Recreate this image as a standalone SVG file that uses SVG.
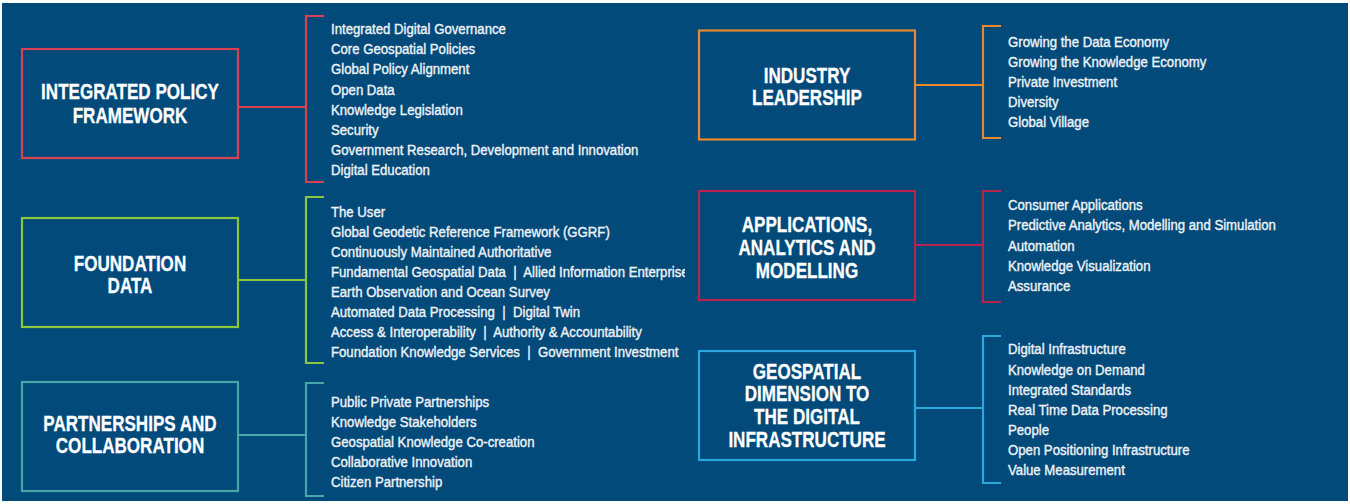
<svg xmlns="http://www.w3.org/2000/svg" width="1350" height="504" viewBox="0 0 1350 504">
<style>
.bg{fill:#024a7a}
.box{fill:none;stroke-width:2.2}
.ln{fill:none;stroke-width:2.2}
.hd{font-family:"Liberation Sans",Arial,sans-serif;font-weight:bold;font-size:22.3px;fill:#ffffff;stroke:#ffffff;stroke-width:0.3;text-anchor:middle}
.it{font-family:"Liberation Sans",Arial,sans-serif;font-size:15.5px;fill:#eef3f8;stroke:#eef3f8;stroke-width:0.4}
.red{stroke:#d9424f}.grn{stroke:#8cc63f}.teal{stroke:#4ba6a9}.org{stroke:#e8892c}.crm{stroke:#b8234d}.blu{stroke:#2aa7de}
</style>
<defs>
<clipPath id="clipL"><rect x="0" y="0" width="685" height="504"/></clipPath>
</defs>
<rect x="0" y="0" width="1350" height="504" fill="#ffffff"/>
<rect class="bg" x="2" y="3" width="1346" height="498"/>

<g id="connectors">
<path class="ln red" d="M238 107H306M324 16H306V182H324"/>
<path class="ln grn" d="M238 280H306M324 197H306V363H324"/>
<path class="ln teal" d="M238 435H306M324 383H306V496H324"/>
<path class="ln org" d="M915 85H983M1001 26H983V138H1001"/>
<path class="ln crm" d="M915 245H983M1001 191H983V302H1001"/>
<path class="ln blu" d="M915 408H983M1001 336H983V483H1001"/>
</g>

<g id="node-integrated-policy">
<rect class="box red" x="22" y="49" width="216" height="109"/>
<text class="hd" transform="translate(130,99.3) scale(0.765,1)" x="0" y="0">INTEGRATED POLICY</text>
<text class="hd" transform="translate(130,122.7) scale(0.765,1)" x="0" y="0">FRAMEWORK</text>
</g>
<g id="list-integrated-policy" transform="translate(331,0) scale(0.85,1)">
<text class="it" x="0" y="34">Integrated Digital Governance</text>
<text class="it" x="0" y="54.2">Core Geospatial Policies</text>
<text class="it" x="0" y="74.4">Global Policy Alignment</text>
<text class="it" x="0" y="94.6">Open Data</text>
<text class="it" x="0" y="114.8">Knowledge Legislation</text>
<text class="it" x="0" y="135">Security</text>
<text class="it" x="0" y="155.2">Government Research, Development and Innovation</text>
<text class="it" x="0" y="175.4">Digital Education</text>
</g>

<g id="node-foundation-data">
<rect class="box grn" x="22" y="218" width="216" height="109"/>
<text class="hd" transform="translate(130,271) scale(0.765,1)" x="0" y="0">FOUNDATION</text>
<text class="hd" transform="translate(130,293) scale(0.765,1)" x="0" y="0">DATA</text>
</g>
<g clip-path="url(#clipL)">
<g id="list-foundation-data" transform="translate(331,0) scale(0.85,1)">
<text class="it" x="0" y="216.8">The User</text>
<text class="it" x="0" y="236.9">Global Geodetic Reference Framework (GGRF)</text>
<text class="it" x="0" y="257">Continuously Maintained Authoritative</text>
<text class="it" x="0" y="277.1" xml:space="preserve">Fundamental Geospatial Data  |  Allied Information Enterprise</text>
<text class="it" x="0" y="297.2">Earth Observation and Ocean Survey</text>
<text class="it" x="0" y="317.3" xml:space="preserve">Automated Data Processing  |  Digital Twin</text>
<text class="it" x="0" y="337.4" xml:space="preserve">Access &amp; Interoperability  |  Authority &amp; Accountability</text>
<text class="it" x="0" y="357.5" xml:space="preserve">Foundation Knowledge Services  |  Government Investment</text>
</g>
</g>

<g id="node-partnerships">
<rect class="box teal" x="22" y="382" width="216" height="109"/>
<text class="hd" transform="translate(130,431) scale(0.765,1)" x="0" y="0">PARTNERSHIPS AND</text>
<text class="hd" transform="translate(130,453.3) scale(0.765,1)" x="0" y="0">COLLABORATION</text>
</g>
<g id="list-partnerships" transform="translate(331,0) scale(0.85,1)">
<text class="it" x="0" y="406.7">Public Private Partnerships</text>
<text class="it" x="0" y="426.8">Knowledge Stakeholders</text>
<text class="it" x="0" y="446.9">Geospatial Knowledge Co-creation</text>
<text class="it" x="0" y="467">Collaborative Innovation</text>
<text class="it" x="0" y="487.1">Citizen Partnership</text>
</g>

<g id="node-industry-leadership">
<rect class="box org" x="699" y="30.5" width="216" height="109"/>
<text class="hd" transform="translate(807,82.7) scale(0.765,1)" x="0" y="0">INDUSTRY</text>
<text class="hd" transform="translate(807,105.3) scale(0.765,1)" x="0" y="0">LEADERSHIP</text>
</g>
<g id="list-industry-leadership" transform="translate(1008,0) scale(0.85,1)">
<text class="it" x="0" y="46.7">Growing the Data Economy</text>
<text class="it" x="0" y="66.8">Growing the Knowledge Economy</text>
<text class="it" x="0" y="86.9">Private Investment</text>
<text class="it" x="0" y="107">Diversity</text>
<text class="it" x="0" y="127.1">Global Village</text>
</g>

<g id="node-applications">
<rect class="box crm" x="699" y="191" width="216" height="109"/>
<text class="hd" transform="translate(807,231.7) scale(0.765,1)" x="0" y="0">APPLICATIONS,</text>
<text class="hd" transform="translate(807,254.5) scale(0.765,1)" x="0" y="0">ANALYTICS AND</text>
<text class="hd" transform="translate(807,277.5) scale(0.765,1)" x="0" y="0">MODELLING</text>
</g>
<g id="list-applications" transform="translate(1008,0) scale(0.85,1)">
<text class="it" x="0" y="210.2">Consumer Applications</text>
<text class="it" x="0" y="230.5">Predictive Analytics, Modelling and Simulation</text>
<text class="it" x="0" y="250.8">Automation</text>
<text class="it" x="0" y="271">Knowledge Visualization</text>
<text class="it" x="0" y="291.2">Assurance</text>
</g>

<g id="node-geospatial-dimension">
<rect class="box blu" x="699" y="351" width="216" height="109"/>
<text class="hd" transform="translate(807,378.5) scale(0.765,1)" x="0" y="0">GEOSPATIAL</text>
<text class="hd" transform="translate(807,401) scale(0.765,1)" x="0" y="0">DIMENSION TO</text>
<text class="hd" transform="translate(807,424) scale(0.765,1)" x="0" y="0">THE DIGITAL</text>
<text class="hd" transform="translate(807,447) scale(0.765,1)" x="0" y="0">INFRASTRUCTURE</text>
</g>
<g id="list-geospatial-dimension" transform="translate(1008,0) scale(0.85,1)">
<text class="it" x="0" y="354.5">Digital Infrastructure</text>
<text class="it" x="0" y="374.6">Knowledge on Demand</text>
<text class="it" x="0" y="394.7">Integrated Standards</text>
<text class="it" x="0" y="414.8">Real Time Data Processing</text>
<text class="it" x="0" y="434.9">People</text>
<text class="it" x="0" y="455">Open Positioning Infrastructure</text>
<text class="it" x="0" y="475.1">Value Measurement</text>
</g>
</svg>
